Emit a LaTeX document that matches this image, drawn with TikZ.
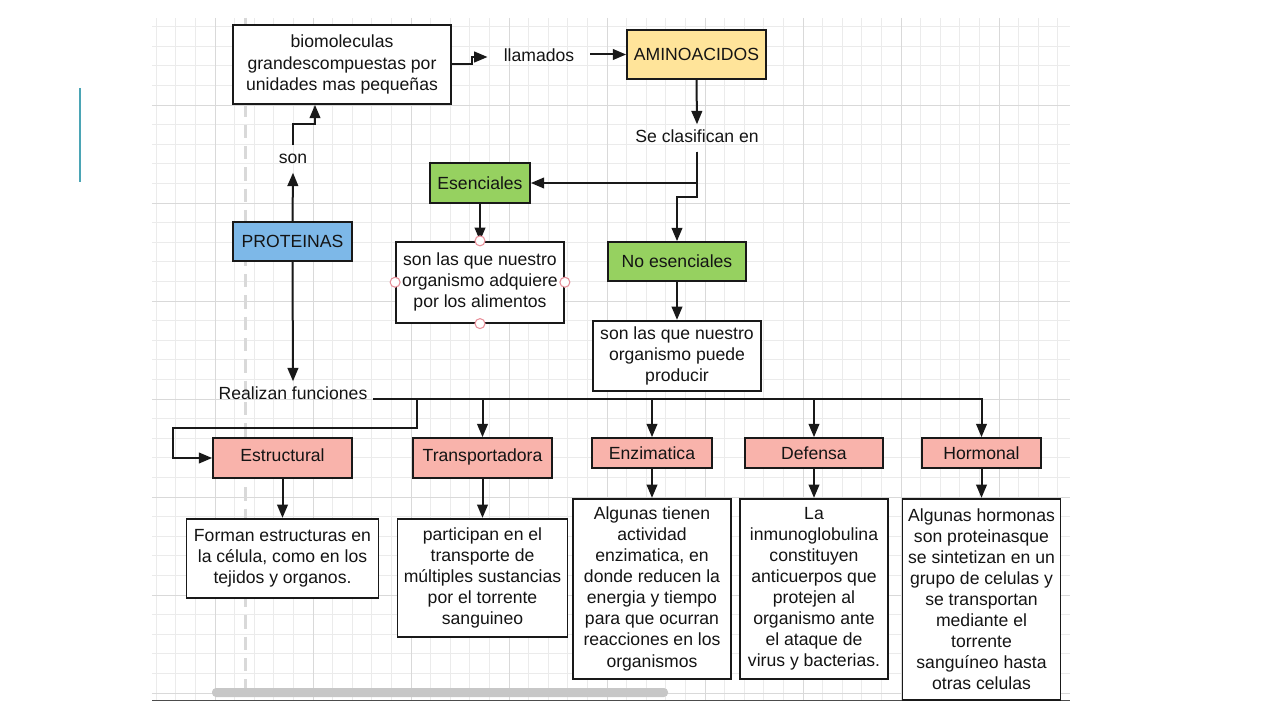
\documentclass[tikz,border=0pt]{standalone}
\usepackage{fontspec}
\setmainfont{Liberation Sans}
\usetikzlibrary{arrows.meta,positioning,calc}

\definecolor{aminoyellow}{HTML}{FFE49A}
\definecolor{esgreen}{HTML}{96D160}
\definecolor{protblue}{HTML}{7DB8E8}
\definecolor{funcpink}{HTML}{F9B3AB}
\definecolor{handlepink}{HTML}{E8909A}
\definecolor{slideteal}{HTML}{4BA5B5}
\definecolor{textdark}{HTML}{141414}
\newcommand{\mapfont}{\fontsize{13.2pt}{15.8pt}\selectfont}

\begin{document}
\begin{tikzpicture}[
        x=0.75pt, y=-0.75pt,
        box/.style={rectangle, draw=black!90, line width=1.3pt, fill=white, align=center, inner sep=0pt, font=\mapfont, text=textdark},
        concept/.style={box, fill=#1},
        lbl/.style={font=\mapfont, text=textdark, text height=9.6pt, text depth=2.6pt, inner sep=4pt},
        arrow/.style={-{Triangle[length=10pt,width=8pt]}, line width=1.5pt, black!90},
        handle/.style={circle, draw=handlepink, fill=white, line width=0.8pt, minimum size=7.5pt, inner sep=0pt},
        gridminor/.style={black!8, line width=0.5pt},
        gridmajor/.style={black!15, line width=0.6pt}
      ]
        \useasboundingbox (0,0) rectangle (1280,720);

        % Slide mark and canvas
        \draw[slideteal, line width=1.5pt] (80,88) -- (80,182);
        \begin{scope}
          \clip (152,18) rectangle (1070,700);
          \foreach \gx in {0,...,47} \draw[gridminor] ({156.2+19.6*\gx},18) -- ({156.2+19.6*\gx},700);
          \foreach \gy in {0,...,35} \draw[gridminor] (152,{693-19.6*\gy}) -- (1070,{693-19.6*\gy});
          \foreach \gx in {0,...,8} \draw[gridmajor] ({215+98*\gx},18) -- ({215+98*\gx},700);
          \foreach \gy in {0,...,7} \draw[gridmajor] (152,{693-98*\gy}) -- (1070,{693-98*\gy});
          \draw[black!15, line width=2.2pt, dash pattern=on 10pt off 6pt] (245.5,18) -- (245.5,700);
        \end{scope}
        \fill[black!22, rounded corners=3pt] (212,688) rectangle (668,697);
        \draw[black!70, line width=1.1pt] (152,700.5) -- (1070,700.5);

        % Proteinas
        \node[concept=protblue, minimum width=89.25pt, minimum height=29.25pt] (proteinas) at (292.5,241.5) {PROTEINAS};
        \node[lbl] (son) at (293,159) {son};
        \node[box, minimum width=163.5pt, minimum height=59.25pt] (biomol) at (342,64.5) {biomoleculas\\grandescompuestas por\\unidades mas pequeñas};
        \node[lbl, inner xsep=12pt] (llamados) at (539,57) {llamados};

        % Aminoacidos
        \node[concept=aminoyellow, minimum width=104.25pt, minimum height=36.75pt] (amino) at (696.5,54.5) {AMINOACIDOS};
        \node[lbl] (se_clas) at (697,138) {Se clasifican en};
        \node[concept=esgreen, minimum width=75pt, minimum height=30pt] (esen) at (480,183) {Esenciales};
        \node[box, minimum width=126pt, minimum height=60.75pt, below=27.75pt of esen] (esen_desc) {son las que nuestro\\organismo adquiere\\por los alimentos};
        \node[concept=esgreen, minimum width=103.5pt, minimum height=29.25pt] (no_esen) at (677,261.5) {No esenciales};
        \node[box, minimum width=126pt, minimum height=52.5pt, below=28.5pt of no_esen] (no_esen_desc) {son las que nuestro\\organismo puede\\producir};

        % Funciones
        \node[lbl] (realizan) at (293,395) {Realizan funciones};
        \node[concept=funcpink, minimum width=104.25pt, minimum height=30pt, text depth=4pt] (estructural) at (282.5,458) {Estructural};
        \node[concept=funcpink, minimum width=104.25pt, minimum height=30pt, text depth=4pt] (transp) at (482.5,458) {Transportadora};
        \node[concept=funcpink, minimum width=90pt, minimum height=22.5pt] (enzim) at (652,453) {Enzimatica};
        \node[concept=funcpink, minimum width=103.5pt, minimum height=22.5pt] (defensa) at (814,453) {Defensa};
        \node[concept=funcpink, minimum width=89.25pt, minimum height=22.5pt] (hormonal) at (981.5,453) {Hormonal};

        \node[box, minimum width=144pt, minimum height=59.25pt, below=29.25pt of estructural] (estructural_desc) {Forman estructuras en\\la célula, como en los\\tejidos y organos.};
        \node[box, minimum width=127.5pt, minimum height=88.5pt, below=29.25pt of transp] (transp_desc) {participan en el\\transporte de\\múltiples sustancias\\por el torrente\\sanguineo};
        \node[box, minimum width=118.5pt, minimum height=135pt, below=21.75pt of enzim] (enzim_desc) {Algunas tienen\\actividad\\enzimatica, en\\donde reducen la\\energia y tiempo\\para que ocurran\\reacciones en los\\organismos};
        \node[box, minimum width=111pt, minimum height=135pt, below=21.75pt of defensa] (defensa_desc) {La\\inmunoglobulina\\constituyen\\anticuerpos que\\protejen al\\organismo ante\\el ataque de\\virus y bacterias.};
        \node[box, minimum width=118.5pt, minimum height=150.75pt, below=21.75pt of hormonal] (hormonal_desc) {Algunas hormonas\\son proteinasque\\se sintetizan en un\\grupo de celulas y\\se transportan\\mediante el\\torrente\\sanguíneo hasta\\otras celulas};

        % Arrows
        \draw[arrow] (proteinas.north) -- (son.south);
        \draw[arrow] (son.north) |- (315,124) -- (315,0 |- biomol.south);
        \draw[arrow] (biomol.east |- 0,64) -- (472,64) |- (llamados.west);
        \draw[arrow] (llamados.east |- amino.west) -- (amino.west);
        \draw[arrow] (amino.south) -- (se_clas.north);
        \draw[arrow] (se_clas.south) |- (esen.east);
        \draw[arrow] (se_clas.south) -- (se_clas.south |- 0,197) -| (no_esen.north);
        \draw[arrow] (esen.south) -- (esen_desc.north);
        \draw[arrow] (no_esen.south) -- (no_esen_desc.north);
        \draw[arrow] (proteinas.south) -- (realizan.north);

        \draw[arrow] (realizan.east |- 0,399) -| (hormonal.north);
        \draw[arrow] (417,399) |- (173,428) |- (estructural.west);
        \draw[arrow] (transp.north |- 0,399) -- (transp.north);
        \draw[arrow] (enzim.north |- 0,399) -- (enzim.north);
        \draw[arrow] (defensa.north |- 0,399) -- (defensa.north);
        \foreach \f in {estructural,transp,enzim,defensa,hormonal}
          \draw[arrow] (\f.south) -- (\f_desc.north);

        % Selection handles
        \node[handle] (h_top) at (esen_desc.north) {};
        \node[handle] (h_left) at (esen_desc.west) {};
        \node[handle] (h_right) at (esen_desc.east) {};
        \node[handle] (h_bottom) at (esen_desc.south) {};
      \end{tikzpicture}
\end{document}
